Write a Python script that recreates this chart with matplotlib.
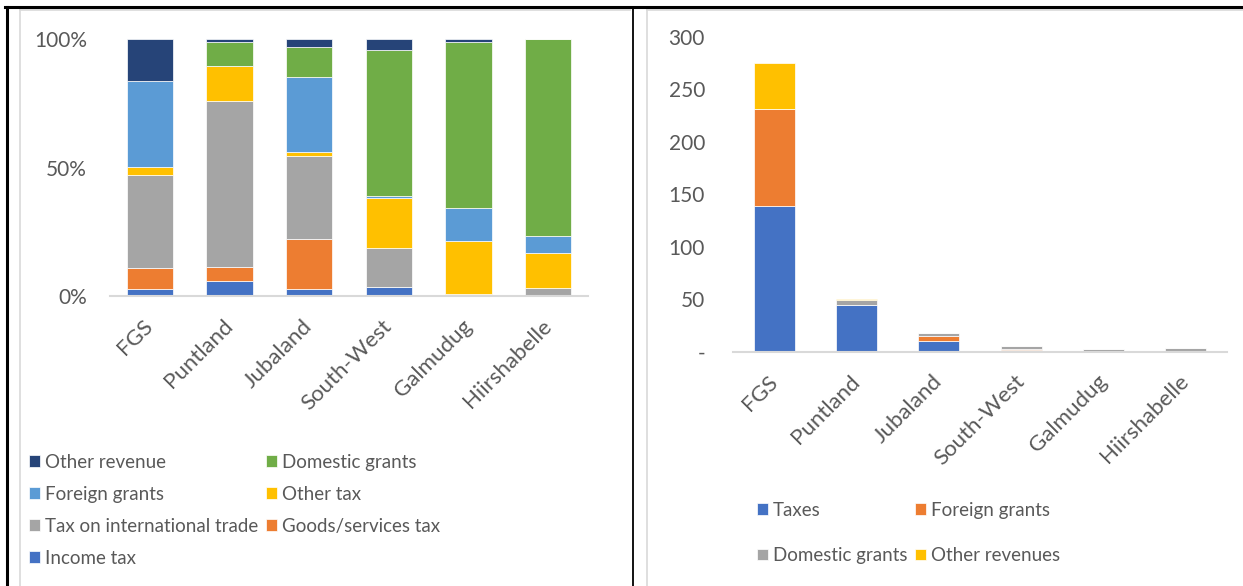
import matplotlib
matplotlib.use("Agg")
import matplotlib.pyplot as plt
from matplotlib.lines import Line2D
from matplotlib.ticker import FuncFormatter
import matplotlib.transforms as mtransforms

plt.rcParams["font.family"] = ["Lato", "DejaVu Sans"]

regions = ["FGS", "Puntland", "Jubaland", "South-West", "Galmudug", "Hiirshabelle"]

# left chart: share of revenue by source (%), bottom to top
income_tax = [2.9, 5.7, 2.9, 3.5, 0.0, 0.0]
goods_services_tax = [8.2, 5.6, 19.2, 0.0, 0.8, 0.0]
trade_tax = [36.2, 64.5, 32.5, 15.2, 0.0, 3.1]
other_tax = [2.9, 13.8, 1.6, 19.5, 20.5, 13.7]
foreign_grants_pct = [33.5, 0.0, 29.1, 0.8, 13.0, 6.7]
domestic_grants_pct = [0.0, 9.4, 11.8, 56.7, 64.8, 76.5]
other_revenue_pct = [16.3, 1.0, 2.9, 4.3, 0.9, 0.0]

# right chart: revenue levels
taxes = [139, 44, 10, 1.9, 0.5, 0.6]
foreign_grants = [92, 0, 5.2, 0.05, 0.3, 0.2]
domestic_grants = [0, 4.7, 2.2, 3.2, 1.6, 2.7]
other_revenues = [44, 0.9, 0.6, 0.3, 0.1, 0.1]

W, H = 1243, 586
TXT = "#595959"
FS_Y = 15
FS_X = 16
FS_LEG = 13.5

fig = plt.figure(figsize=(W / 100, H / 100), dpi=100)


def px_axes(x0, x1, y_top, y_bot):
    return fig.add_axes([x0 / W, 1 - y_bot / H, (x1 - x0) / W, (y_bot - y_top) / H])


def style_axes(ax, ypad_px):
    for s in ["top", "right", "left"]:
        ax.spines[s].set_visible(False)
    ax.spines["bottom"].set_color("#D9D9D9")
    ax.spines["bottom"].set_linewidth(1.5)
    ax.tick_params(axis="both", length=0, colors=TXT)
    ax.tick_params(axis="y", labelsize=FS_Y, pad=ypad_px / 1.389)
    ax.set_xlim(-0.5, 5.5)
    ax.set_xticks(range(len(regions)))
    ax.set_xticklabels(regions, rotation=45, ha="right", va="center",
                       rotation_mode="anchor", color=TXT, fontsize=FS_X)
    off = mtransforms.ScaledTranslation(8 / 100, 0, fig.dpi_scale_trans)
    for lab in ax.get_xticklabels():
        lab.set_transform(lab.get_transform() + off)
    ax.tick_params(axis="x", pad=27 / 1.389)


# ---- left: percentage stacked
ax1 = px_axes(110, 588, 39.3, 296)
left_series = [
    ("Income tax", income_tax, "#4472C4"),
    ("Goods/services tax", goods_services_tax, "#ED7D31"),
    ("Tax on international trade", trade_tax, "#A5A5A5"),
    ("Other tax", other_tax, "#FFC000"),
    ("Foreign grants", foreign_grants_pct, "#5B9BD5"),
    ("Domestic grants", domestic_grants_pct, "#70AD47"),
    ("Other revenue", other_revenue_pct, "#264478"),
]
bottom = [0.0] * len(regions)
bars1 = {}
for name, vals, col in left_series:
    bars1[name] = ax1.bar(range(len(regions)), vals, 0.58, bottom=bottom, color=col,
                          edgecolor="white", linewidth=0.5, label=name)
    bottom = [b + v for b, v in zip(bottom, vals)]
ax1.set_ylim(0, 100)
ax1.set_yticks([0, 50, 100])
ax1.yaxis.set_major_formatter(FuncFormatter(lambda v, p: f"{v:.0f}%"))
style_axes(ax1, 23)

order1 = ["Other revenue", "Foreign grants", "Tax on international trade", "Income tax",
          "Domestic grants", "Other tax", "Goods/services tax"]
fig.legend([bars1[n] for n in order1], order1, loc="upper left",
           bbox_to_anchor=(29 / W, 1 - 454 / H), ncol=2, frameon=False,
           fontsize=FS_LEG, labelcolor=TXT, handlelength=0.6, handleheight=0.6,
           handletextpad=0.25, columnspacing=0.4, labelspacing=0.8,
           borderpad=0, borderaxespad=0)

# ---- right: absolute stacked
ax2 = px_axes(733, 1227, 36.7, 351.5)
right_series = [
    ("Taxes", taxes, "#4472C4"),
    ("Foreign grants", foreign_grants, "#ED7D31"),
    ("Domestic grants", domestic_grants, "#A5A5A5"),
    ("Other revenues", other_revenues, "#FFC000"),
]
bottom = [0.0] * len(regions)
bars2 = {}
for name, vals, col in right_series:
    bars2[name] = ax2.bar(range(len(regions)), vals, 0.5, bottom=bottom, color=col,
                          edgecolor="white", linewidth=0.5, label=name)
    bottom = [b + v for b, v in zip(bottom, vals)]
ax2.set_ylim(0, 300)
ax2.set_yticks(range(0, 301, 50))
ax2.yaxis.set_major_formatter(FuncFormatter(lambda v, p: "-" if v == 0 else f"{v:.0f}"))
style_axes(ax2, 28)

order2 = ["Taxes", "Domestic grants", "Foreign grants", "Other revenues"]
fig.legend([bars2[n] for n in order2], order2, loc="upper left",
           bbox_to_anchor=(757 / W, 1 - 502 / H), ncol=2, frameon=False,
           fontsize=FS_LEG, labelcolor=TXT, handlelength=0.6, handleheight=0.6,
           handletextpad=0.25, columnspacing=0.4, labelspacing=1.5,
           borderpad=0, borderaxespad=0)

# ---- frame lines (table borders and chart borders)
def fline(xs, ys, col, lw):
    fig.add_artist(Line2D([x / W for x in xs], [1 - y / H for y in ys],
                          color=col, linewidth=lw, transform=fig.transFigure))

fline([20, 20], [9.5, H], "#D9D9D9", 1.2)
fline([20, 630], [9.5, 9.5], "#D9D9D9", 1.2)
fline([646.5, 646.5], [9.5, H], "#D9D9D9", 1.2)
fline([646.5, W], [9.5, 9.5], "#D9D9D9", 1.2)
fline([6.5, 6.5], [6.5, H], "black", 2.2)
fline([632.5, 632.5], [6.5, H], "black", 1.3)
fline([5, W], [6.5, 6.5], "black", 2.2)

fig.savefig("out.png", dpi=100)
